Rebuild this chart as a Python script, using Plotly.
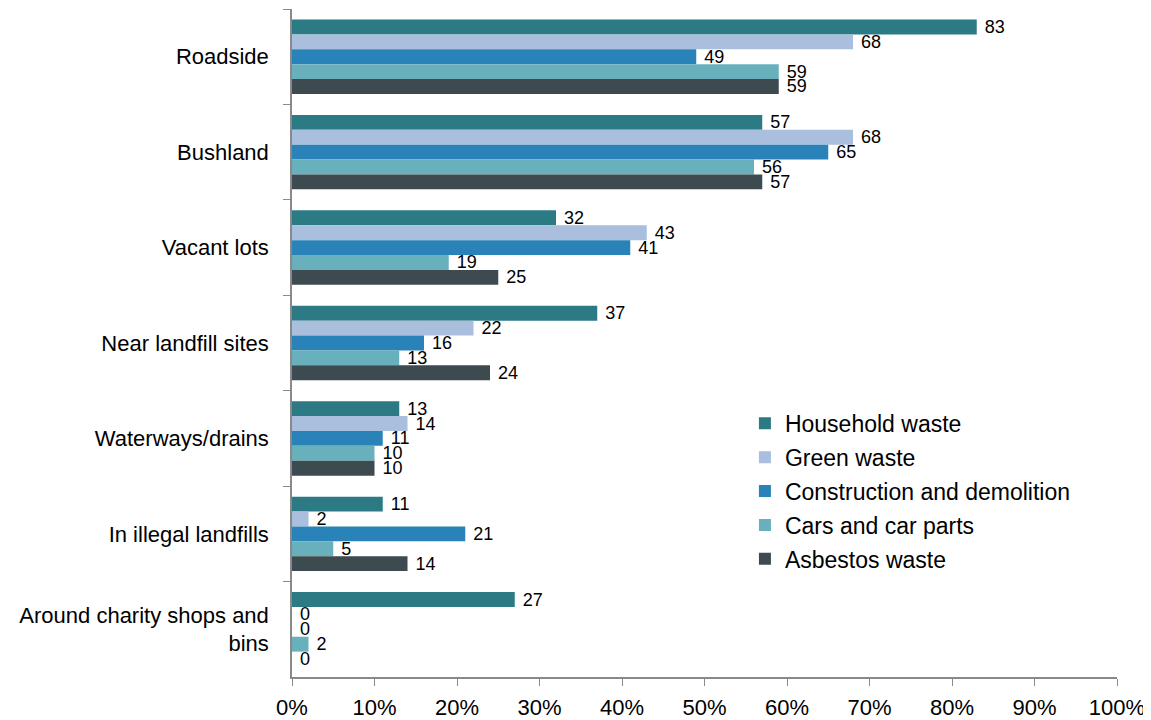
import plotly.graph_objects as go

categories = ["Roadside", "Bushland", "Vacant lots", "Near landfill sites",
              "Waterways/drains", "In illegal landfills", "Around charity shops and<br>bins"]
series_names = ["Household waste", "Green waste", "Construction and demolition",
                "Cars and car parts", "Asbestos waste"]
household = [83, 57, 32, 37, 13, 11, 27]
green = [68, 68, 43, 22, 14, 2, 0]
construction = [49, 65, 41, 16, 11, 21, 0]
cars = [59, 56, 19, 13, 10, 5, 2]
asbestos = [59, 57, 25, 24, 10, 14, 0]
colors = ["#2C7A84", "#A9BFDD", "#2A83B8", "#68B0BC", "#3D4A50"]
x_ticks = [0, 10, 20, 30, 40, 50, 60, 70, 80, 90, 100]
x_ticklabels = [f"{v}%" for v in x_ticks]

FONT = "Liberation Sans, Arial, sans-serif"

fig = go.Figure()
for i, (name, vals) in enumerate(zip(series_names, [household, green, construction, cars, asbestos])):
    fig.add_trace(go.Bar(
        y=categories, x=vals, name=name, orientation="h",
        marker=dict(color=colors[i], line=dict(width=0)),
        text=["\u00a0" + str(v) for v in vals], textposition="outside",
        constraintext="none",
        textfont=dict(size=18, color="black", family=FONT),
        cliponaxis=False, legendgroup=name,
    ))

fig.update_layout(
    barmode="group", bargap=0.22, bargroupgap=0,
    width=1151, height=720,
    margin=dict(l=284, r=42, t=1, b=51),
    plot_bgcolor="white", paper_bgcolor="white",
    font=dict(family=FONT, size=22, color="black"),
    showlegend=True,
    legend=dict(x=0.549, y=0.412, xanchor="left", yanchor="top",
                font=dict(size=23), tracegroupgap=1, bgcolor="rgba(0,0,0,0)"),
)
fig.update_xaxes(range=[0, 100], tickvals=x_ticks, ticktext=x_ticklabels,
                 showgrid=False, zeroline=False, showline=True, linecolor="#898989",
                 linewidth=1.5, ticks="outside", ticklen=7, tickcolor="#898989",
                 tickfont=dict(size=22), ticklabelstandoff=3)
fig.update_yaxes(autorange="reversed", showgrid=False, showline=True, linecolor="#898989",
                 linewidth=1.5, ticks="outside", ticklen=7, tickcolor="#898989",
                 tickson="boundaries", tickfont=dict(size=22), ticklabelstandoff=17)

fig.write_html("out.html")
